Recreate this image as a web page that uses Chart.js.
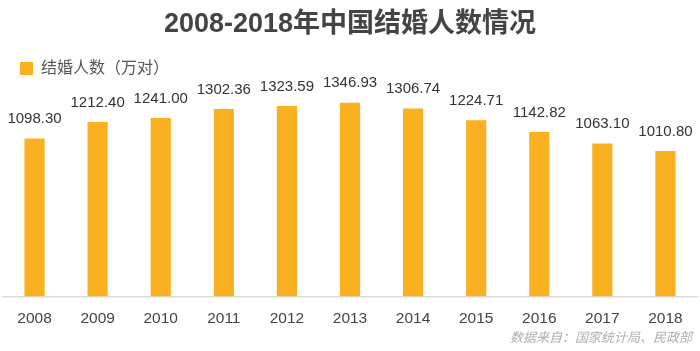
<!DOCTYPE html>
<html>
<head>
<meta charset="utf-8">
<script src="https://cdn.jsdelivr.net/npm/chart.js@4"></script>
<style>
  html, body { margin: 0; padding: 0; background: #fff; }
  #wrap { width: 700px; height: 351px; }
</style>
</head>
<body>
<div id="wrap"><canvas id="canvas"></canvas></div>
<script>
  // years along the x-axis
  const years = ['2008', '2009', '2010', '2011', '2012', '2013', '2014', '2015', '2016', '2017', '2018'];
  // marriages, in 10k couples
  const marriages = [1098.30, 1212.40, 1241.00, 1302.36, 1323.59, 1346.93, 1306.74, 1224.71, 1142.82, 1063.10, 1010.80];

  const FONT = '"Liberation Sans", "Noto Sans CJK SC", sans-serif';

  // value on top of each bar + source note
  const extras = {
    id: 'extras',
    afterDatasetsDraw(chart) {
      const ctx = chart.ctx;
      const meta = chart.getDatasetMeta(0);
      ctx.save();
      ctx.fillStyle = '#333';
      ctx.font = '15px ' + FONT;
      ctx.textAlign = 'center';
      ctx.textBaseline = 'bottom';
      meta.data.forEach((bar, i) => {
        ctx.fillText(marriages[i].toFixed(2), bar.x, bar.y - 12);
      });
      ctx.fillStyle = '#b0b0b0';
      ctx.font = 'italic 13px "Noto Sans CJK SC", sans-serif';
      ctx.textAlign = 'right';
      ctx.textBaseline = 'middle';
      ctx.fillText('数据来自：国家统计局、民政部', 692, 337);
      ctx.restore();
    }
  };

  new Chart(document.getElementById('canvas'), {
    type: 'bar',
    data: {
      labels: years,
      datasets: [{
        label: '结婚人数（万对）',
        data: marriages,
        backgroundColor: '#F9B122',
        categoryPercentage: 1,
        barPercentage: 0.32
      }]
    },
    options: {
      responsive: true,
      maintainAspectRatio: false,
      animation: false,
      layout: { padding: { left: 3, right: 3, top: 8, bottom: 18 } },
      plugins: {
        title: {
          display: true,
          text: '2008-2018年中国结婚人数情况',
          color: '#444',
          font: { family: FONT, size: 27, weight: 'bold' },
          padding: { top: 0, bottom: 3 }
        },
        legend: {
          display: true,
          align: 'start',
          labels: {
            boxWidth: 13,
            boxHeight: 13,
            color: '#555',
            font: { family: FONT, size: 16 },
            padding: 17
          }
        },
        tooltip: { enabled: false }
      },
      scales: {
        x: {
          grid: { display: false },
          border: { display: true, color: '#ddd', width: 1.5 },
          ticks: { color: '#444', font: { family: FONT, size: 15.5 }, padding: 5 }
        },
        y: {
          display: false,
          min: 0,
          max: 1460
        }
      }
    },
    plugins: [extras]
  });
</script>
</body>
</html>
